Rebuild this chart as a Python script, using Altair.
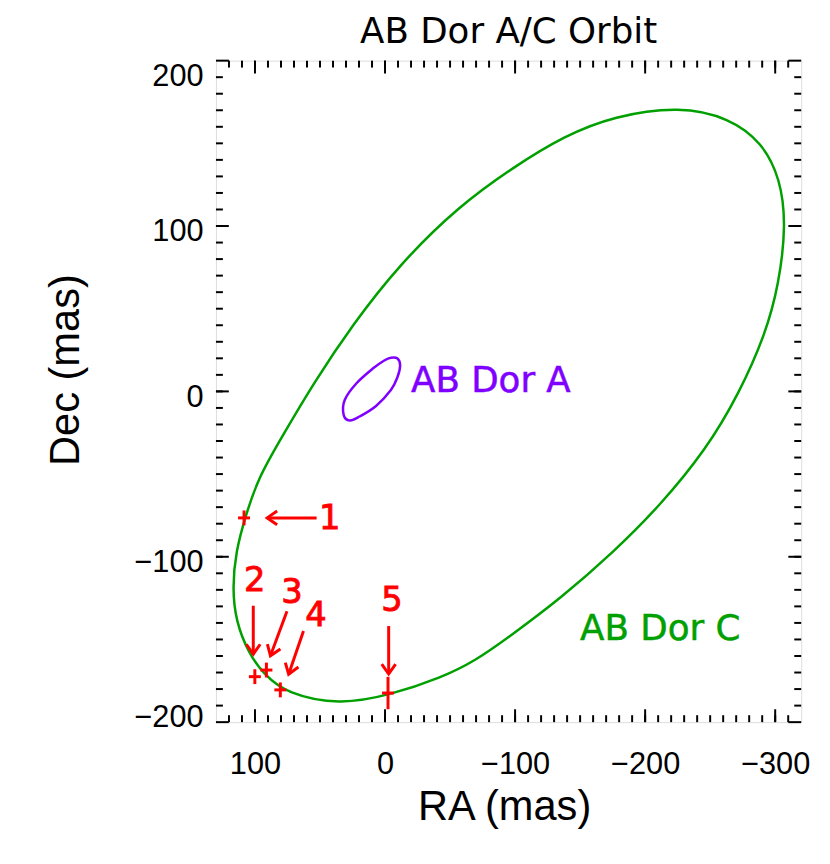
import math
import altair as alt
import pandas as pd

# ---------------- data ----------------
# AB Dor C orbit (RA, Dec in mas), points traced along the green ellipse
orbit_c_ra = [34.8, -3.3, -43.9, -69.3, -94.6, -135.3, -175.9, -211.4, -246.9, -272.3,
              -292.6, -302.8, -308.4, -304.0, -290.1, -264.7, -226.7, -175.9, -137.8, -99.7,
              -56.6, -10.9, 24.6, 55.1, 80.5, 97.5, 107.2, 114.8, 117.3, 114.8,
              104.6, 93.2, 75.4]
orbit_c_dec = [-189.5, -183.8, -172.9, -162.9, -148.9, -125.0, -97.0, -69.1, -35.2, -1.2,
               34.7, 64.7, 100.6, 128.5, 150.5, 165.4, 172.5, 166.5, 154.5, 136.1,
               112.0, 76.6, 40.7, 4.8, -29.2, -52.5, -75.1, -97.0, -119.0, -138.9,
               -158.9, -170.9, -182.9]

# AB Dor A reflex orbit (purple ellipse)
orbit_a_ra = [-4.5, -9.6, -11.6, -9.6, -4.5, 6.9, 19.6, 27.2, 31.8, 31.0, 22.1, 9.4, 0.6]
orbit_a_dec = [20.4, 19.9, 15.7, 8.7, 0.8, -8.8, -15.2, -17.6, -14.2, -5.2, 4.8, 13.8, 18.7]

# observed positions of AB Dor C with uncertainties
obs_ra = [108.4, 100.1, 91.2, 80.5, -2.3]
obs_dec = [-76.5, -172.5, -168.5, -180.5, -182.4]
obs_ra_err = [4.6, 4.6, 4.6, 4.6, 4.6]
obs_dec_err = [4.5, 4.5, 4.5, 4.5, 9.8]

# epoch numbers and arrows
epoch_label = ["1", "2", "3", "4", "5"]
label_ra = [42.5, 100.3, 71.6, 53.1, -5.3]
label_dec = [-75.9, -113.4, -121.0, -134.6, -125.4]
arrow_tail_ra = [52.6, 101.3, 75.4, 62.7, -2.8]
arrow_tail_dec = [-76.5, -129.6, -132.9, -144.9, -141.9]
arrow_tip_ra = [90.6, 101.3, 88.1, 74.1, -2.8]
arrow_tip_dec = [-76.5, -158.9, -159.9, -171.0, -170.9]

# name labels
names = ["AB Dor A", "AB Dor C"]
name_ra = [-20.0, -150.0]
name_dec = [-0.2, -150.5]

# axes
x_domain = [-320, 130]
y_domain = [-200, 200]
x_major = [100, 0, -100, -200, -300]
y_major = [-200, -100, 0, 100, 200]
x_minor = list(range(-310, 130, 10))
y_minor = list(range(-190, 200, 10))

# ---------------- build ----------------
W, H = 591, 668
FONT = "DejaVu Sans"
GREEN = "#00A000"
PURPLE = "#8000FF"
RED = "#FF0000"
MAJOR, MINOR = 13, 7

xs = alt.Scale(domain=x_domain, reverse=True, nice=False, zero=False)
ys = alt.Scale(domain=y_domain, nice=False, zero=False)

orbit_c = pd.DataFrame({"ra": orbit_c_ra, "dec": orbit_c_dec, "i": range(len(orbit_c_ra))})
orbit_a = pd.DataFrame({"ra": orbit_a_ra, "dec": orbit_a_dec, "i": range(len(orbit_a_ra))})
obs = pd.DataFrame({"ra": obs_ra, "dec": obs_dec, "rae": obs_ra_err, "dece": obs_dec_err})

xppu = W / (x_domain[1] - x_domain[0])
yppu = H / (y_domain[1] - y_domain[0])
angles = []
for tr, td, hr, hd in zip(arrow_tail_ra, arrow_tail_dec, arrow_tip_ra, arrow_tip_dec):
    dx = -(hr - tr) * xppu
    dy = -(hd - td) * yppu
    angles.append(math.degrees(math.atan2(dy, dx)) % 360)
arrows = pd.DataFrame({"ra": arrow_tail_ra, "dec": arrow_tail_dec,
                       "ra2": arrow_tip_ra, "dec2": arrow_tip_dec, "ang": angles})
labels = pd.DataFrame({"ra": label_ra, "dec": label_dec, "t": epoch_label})
name_df = pd.DataFrame({"ra": name_ra, "dec": name_dec, "t": names, "c": [PURPLE, GREEN]})

x_label_axis = alt.Axis(orient="bottom", values=x_major, format="d", ticks=False, tickSize=0,
                        domain=False, grid=False, labelPadding=28, labelFontSize=31,
                        labelFlush=False, title="RA (mas)", titleFontSize=42,
                        titleFontWeight="normal",
                        titleX=291, titleY=98, titleBaseline="alphabetic", titleAlign="center")
y_label_axis = alt.Axis(orient="left", values=y_major, format="d", ticks=False, tickSize=0,
                        domain=False, grid=False, labelPadding=13, labelFontSize=31,
                        labelFlush=True, labelFlushOffset=5, labelOffset=6,
                        title="Dec (mas)", titleFontSize=42, titleFontWeight="normal",
                        titleAngle=270,
                        titleX=-139, titleY=312, titleBaseline="alphabetic", titleAlign="center")

green = alt.Chart(orbit_c).mark_line(color=GREEN, strokeWidth=2.5, interpolate="basis-closed").encode(
    x=alt.X("ra:Q", scale=xs, axis=x_label_axis),
    y=alt.Y("dec:Q", scale=ys, axis=y_label_axis),
    order="i:O",
)

purple = alt.Chart(orbit_a).mark_line(color=PURPLE, strokeWidth=2.5, interpolate="cardinal-closed").encode(
    x=alt.X("ra:Q", scale=xs, axis=None),
    y=alt.Y("dec:Q", scale=ys, axis=None),
    order="i:O",
)


def x_ticks(values, size, top):
    y0, y1 = (0, size) if top else (H, H - size)
    return alt.Chart(pd.DataFrame({"v": values})).mark_rule(color="black", strokeWidth=2).encode(
        x=alt.X("v:Q", scale=xs, axis=None), y=alt.value(y0), y2=alt.value(y1))


def y_ticks(values, size, right):
    x0, x1 = (W, W - size) if right else (0, size)
    return alt.Chart(pd.DataFrame({"v": values})).mark_rule(color="black", strokeWidth=2).encode(
        y=alt.Y("v:Q", scale=ys, axis=None), x=alt.value(x0), x2=alt.value(x1))


ticks = [
    x_ticks(x_major, MAJOR, False), x_ticks(x_minor, MINOR, False),
    x_ticks(x_major, MAJOR, True), x_ticks(x_minor, MINOR, True),
    y_ticks(y_major, MAJOR, False), y_ticks(y_minor, MINOR, False),
    y_ticks(y_major, MAJOR, True), y_ticks(y_minor, MINOR, True),
]

err_h = alt.Chart(obs).transform_calculate(
    lo="datum.ra - datum.rae", hi="datum.ra + datum.rae"
).mark_rule(color=RED, strokeWidth=3).encode(
    x=alt.X("lo:Q", scale=xs, axis=None), x2="hi:Q",
    y=alt.Y("dec:Q", scale=ys, axis=None),
)
err_v = alt.Chart(obs).transform_calculate(
    lo="datum.dec - datum.dece", hi="datum.dec + datum.dece"
).mark_rule(color=RED, strokeWidth=3).encode(
    x=alt.X("ra:Q", scale=xs, axis=None),
    y=alt.Y("lo:Q", scale=ys, axis=None), y2="hi:Q",
)

shafts = alt.Chart(arrows).mark_rule(color=RED, strokeWidth=3).encode(
    x=alt.X("ra:Q", scale=xs, axis=None), x2="ra2:Q",
    y=alt.Y("dec:Q", scale=ys, axis=None), y2="dec2:Q",
)
heads = alt.Chart(arrows).mark_point(
    shape="M -1 -0.7 L 0 0 L -1 0.7", filled=False, size=400, strokeWidth=3,
    color=RED, opacity=1,
).encode(
    x=alt.X("ra2:Q", scale=xs, axis=None),
    y=alt.Y("dec2:Q", scale=ys, axis=None),
    angle=alt.Angle("ang:Q", scale=None),
)

nums = alt.Chart(labels).mark_text(
    color=RED, stroke=RED, strokeWidth=0.9, font=FONT, fontSize=34,
    align="center", baseline="middle", dy=2
).encode(
    x=alt.X("ra:Q", scale=xs, axis=None),
    y=alt.Y("dec:Q", scale=ys, axis=None),
    text="t:N",
)

name_text = alt.Chart(name_df).mark_text(
    font=FONT, fontSize=36, align="left", baseline="alphabetic", strokeWidth=0.5
).encode(
    x=alt.X("ra:Q", scale=xs, axis=None),
    y=alt.Y("dec:Q", scale=ys, axis=None),
    text="t:N",
    color=alt.Color("c:N", scale=None),
    stroke=alt.Stroke("c:N", scale=None),
)

chart = alt.layer(
    green, purple, *ticks, err_h, err_v, shafts, heads, nums, name_text
).resolve_axis(
    x="independent", y="independent"
).properties(
    width=W, height=H,
    autosize="none",
    padding={"left": 210, "top": 49, "right": 21, "bottom": 130},
    title=alt.TitleParams("AB Dor A/C Orbit", font=FONT, fontSize=36, fontWeight="normal",
                          color="black", anchor="middle", offset=9),
).configure_view(
    stroke="black", strokeWidth=2
).configure_axis(
    labelFont=FONT, titleFont=FONT, labelColor="black", titleColor="black",
    titleFontWeight="normal",
).configure(background="white")

chart.save("out.html", embed_options={"renderer": "svg", "actions": False})
